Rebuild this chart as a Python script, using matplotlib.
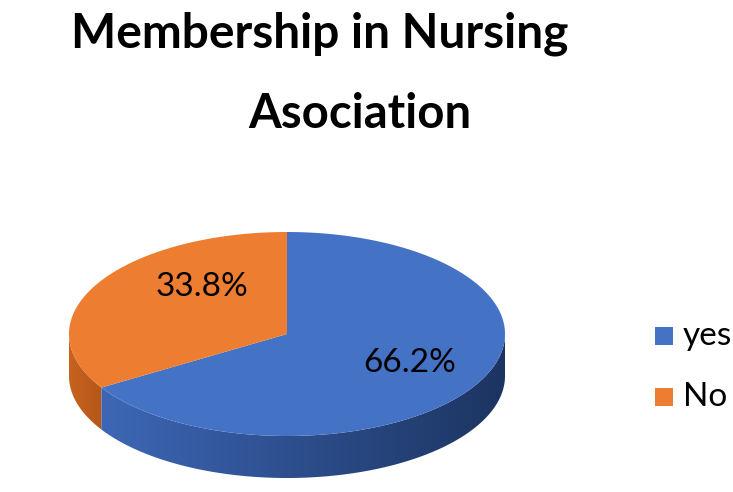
import numpy as np
import matplotlib.pyplot as plt
from matplotlib.patches import Polygon, Rectangle
from matplotlib.colors import LinearSegmentedColormap

# data
categories = ['yes', 'No']
values = [66.2, 33.8]
colors = ['#4472C4', '#ED7D31']
side_colors = [('#3D67B6', '#1C3461'), ('#C8631F', '#B4561A')]
title_lines = ['Membership in Nursing', 'Asociation']

# layout (pixel coords, y down)
W, H = 733, 492
cx, cy, a, b, depth = 287, 334, 218, 102, 42
label_xy = [(410, 363), (202, 287)]

plt.rcParams['font.family'] = ['Lato', 'DejaVu Sans']

fig = plt.figure(figsize=(W / 100, H / 100), dpi=100)
ax = fig.add_axes([0, 0, 1, 1])
ax.set_xlim(0, W)
ax.set_ylim(H, 0)
ax.axis('off')


def rim(t, dy=0.0):
    return np.column_stack([cx + a * np.cos(t), cy - b * np.sin(t) + dy])


# wedge angles: first slice "No" starts at 12 o'clock going ccw, "yes" fills the rest
fr = np.array(values) / sum(values)
start_no = 90.0
end_no = start_no + fr[1] * 360
spans = {1: (start_no, end_no), 0: (end_no, start_no + 360)}

# side walls (front half only: 180..360 deg)
for i in [1, 0]:
    s, e = spans[i]
    lo, hi = max(s, 180), min(e, 360)
    if hi <= lo:
        continue
    t = np.radians(np.linspace(lo, hi, 200))
    pts = np.vstack([rim(t), rim(t[::-1], depth)])
    poly = Polygon(pts, closed=True, facecolor='none', edgecolor='none')
    ax.add_patch(poly)
    cmap = LinearSegmentedColormap.from_list('side%d' % i, side_colors[i])
    grad = np.linspace(0, 1, 256).reshape(1, -1)
    x0, x1 = pts[:, 0].min(), pts[:, 0].max()
    y0, y1 = pts[:, 1].min(), pts[:, 1].max()
    im = ax.imshow(grad, cmap=cmap, extent=(x0, x1, y1, y0), aspect='auto', zorder=1)
    im.set_clip_path(poly)

# top faces
for i in [0, 1]:
    s, e = spans[i]
    t = np.radians(np.linspace(s, e, 300))
    pts = np.vstack([[cx, cy], rim(t)])
    ax.add_patch(Polygon(pts, closed=True, facecolor=colors[i], edgecolor='none', zorder=2))

ax.set_xlim(0, W)
ax.set_ylim(H, 0)

# percentage labels
for i, v in enumerate(values):
    ax.text(label_xy[i][0], label_xy[i][1], f'{v:.1f}%', fontsize=24,
            ha='center', va='center', color='#000000', zorder=3)

# title
ax.text(320, 48, title_lines[0], fontsize=34.5, fontweight='bold', ha='center', va='baseline')
ax.text(360, 128, title_lines[1], fontsize=34, fontweight='bold', ha='center', va='baseline')

# legend
for i, (cat, yc) in enumerate(zip(categories, [336, 397])):
    ax.add_patch(Rectangle((655, yc - 9), 18, 18, facecolor=colors[i], edgecolor='none'))
    ax.text(683, yc, cat, fontsize=24, ha='left', va='center')

fig.savefig('out.png', dpi=100)
